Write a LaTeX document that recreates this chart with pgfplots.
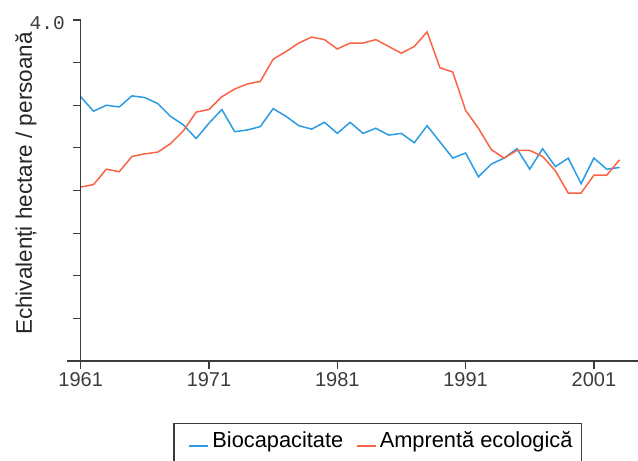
\documentclass[border=0pt]{standalone}
\usepackage{pgfplots}
\pgfplotsset{compat=1.18}
\usepackage{fontspec}
\setmainfont{Liberation Sans}
\newfontfamily\monofont{Liberation Mono}
\definecolor{bioblue}{RGB}{43,155,226}
\definecolor{ecored}{RGB}{250,100,70}
\definecolor{axisgray}{RGB}{60,60,60}
\begin{document}
\begin{tikzpicture}
\begin{axis}[
  at={(67bp,100bp)}, anchor=south west,
  width=571bp, height=341bp, scale only axis,
  xmin=1959.932, xmax=2004.437, ymin=0, ymax=4,
  axis x line=bottom, axis y line=none,
  axis line style={-, axisgray, line width=1.2bp},
  xtick={1961,1971,1981,1991,2001},
  xticklabels={1961,1971,1981,1991,2001},
  xtick align=outside, major tick length=8bp,
  tick style={axisgray, line width=1.2bp},
  xticklabel style={font=\fontsize{20bp}{24bp}\selectfont, text=axisgray},
  legend columns=2,
  legend style={at={(0.1862,-0.1809)}, anchor=north west,
    draw=axisgray, line width=1.2bp, inner xsep=7bp, inner ysep=6.3bp,
    font=\fontsize{21.8bp}{25bp}\selectfont,
    nodes={text depth=16bp},
    /tikz/every even column/.append style={column sep=3bp}},
]
\addplot[bioblue, line width=1.5bp,
  legend image code/.code={
    \path[draw=none, fill=none] (0bp,-6bp) rectangle (29.5bp,6bp);
    \draw[bioblue, line width=1.8bp] (8.5bp,2bp) -- (27.5bp,2bp);
  }] coordinates {
(1961,3.10) (1962,2.93) (1963,3.00) (1964,2.98) (1965,3.11) (1966,3.09)
(1967,3.02) (1968,2.87) (1969,2.77) (1970,2.61) (1971,2.79) (1972,2.95)
(1973,2.69) (1974,2.71) (1975,2.75) (1976,2.96) (1977,2.87) (1978,2.76)
(1979,2.72) (1980,2.80) (1981,2.67) (1982,2.80) (1983,2.67) (1984,2.73)
(1985,2.65) (1986,2.67) (1987,2.56) (1988,2.76) (1989,2.57) (1990,2.38)
(1991,2.44) (1992,2.16) (1993,2.31) (1994,2.38) (1995,2.49) (1996,2.25)
(1997,2.49) (1998,2.28) (1999,2.38) (2000,2.08) (2001,2.38) (2002,2.25)
(2003,2.27)};
\addlegendentry{Biocapacitate}
\addplot[ecored, line width=1.5bp,
  legend image code/.code={
    \path[draw=none, fill=none] (0bp,-6bp) rectangle (29.5bp,6bp);
    \draw[ecored, line width=1.8bp] (8.5bp,2bp) -- (27.5bp,2bp);
  }] coordinates {
(1961,2.04) (1962,2.07) (1963,2.25) (1964,2.22) (1965,2.40) (1966,2.43)
(1967,2.45) (1968,2.55) (1969,2.70) (1970,2.92) (1971,2.95) (1972,3.10)
(1973,3.19) (1974,3.25) (1975,3.28) (1976,3.54) (1977,3.63) (1978,3.73)
(1979,3.80) (1980,3.77) (1981,3.66) (1982,3.73) (1983,3.73) (1984,3.77)
(1985,3.69) (1986,3.61) (1987,3.69) (1988,3.86) (1989,3.44) (1990,3.39)
(1991,2.94) (1992,2.73) (1993,2.48) (1994,2.38) (1995,2.47) (1996,2.47)
(1997,2.40) (1998,2.23) (1999,1.97) (2000,1.97) (2001,2.18) (2002,2.18)
(2003,2.36)};
\addlegendentry{Amprentă ecologică}
\end{axis}
% y axis line and ticks (decoration)
\draw[axisgray, line width=1.2bp] (80.7bp,100bp) -- (80.7bp,441bp);
\foreach \k in {1,...,8} {
  \draw[axisgray, line width=1.2bp] (80.7bp,100bp+42.625bp*\k) -- ++(-8bp,0);
}
\node[anchor=base east, font=\monofont\fontsize{19.5bp}{22bp}\selectfont, text=axisgray, inner sep=0pt]
  at (65bp,431.7bp) {4.0};
\node[rotate=90, font=\fontsize{22.5bp}{27bp}\selectfont, text=black!85] at (26bp,277.5bp) {Echivalenți hectare / persoană};
\pgfresetboundingbox
\path[use as bounding box] (0,0) rectangle (638bp,461bp);
\end{tikzpicture}
\end{document}
